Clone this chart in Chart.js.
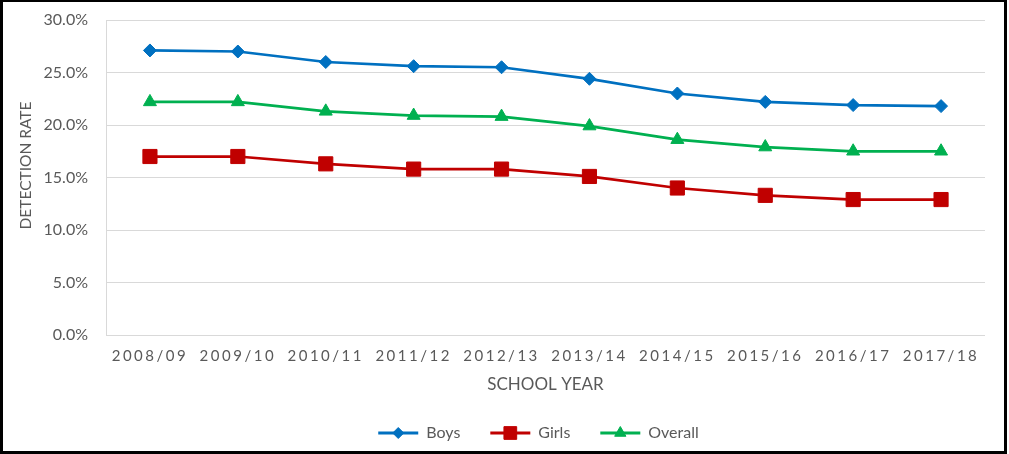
<!DOCTYPE html>
<html>
<head>
<meta charset="utf-8">
<script src="https://cdn.jsdelivr.net/npm/chart.js@4"></script>
<style>
  html, body { margin: 0; padding: 0; background: #fff; }
  #wrap { position: absolute; left: 0; top: 0; width: 1007px; height: 454px; box-sizing: border-box;
          border-left: 3px solid #000; border-right: 3px solid #000; border-top: 2px solid #000; border-bottom: 3px solid #000; }
  #c { display: block; }
</style>
</head>
<body>
<div id="wrap"><canvas id="c" width="1001" height="449"></canvas></div>
<script>
const categories = ["2008/09","2009/10","2010/11","2011/12","2012/13","2013/14","2014/15","2015/16","2016/17","2017/18"];
const boys    = [27.1, 27.0, 26.0, 25.6, 25.5, 24.4, 23.0, 22.2, 21.9, 21.8];
const girls   = [17.0, 17.0, 16.3, 15.8, 15.8, 15.1, 14.0, 13.3, 12.9, 12.9];
const overall = [22.2, 22.2, 21.3, 20.9, 20.8, 19.9, 18.6, 17.9, 17.5, 17.5];
const seriesNames = ["Boys", "Girls", "Overall"];
const yTickValues = [0, 5, 10, 15, 20, 25, 30];

const BLUE = '#0070C0', RED = '#C00000', GREEN = '#00B050';
const TEXT = '#595959';
const FONT = 'Lato, "Open Sans", sans-serif';

const tweakPlugin = {
  id: 'tweaks',
  afterLayout(chart) {
    const lg = chart.legend;
    if (lg) { lg.left -= 7; lg.right -= 7; }
  },
  beforeDraw(chart) {
    const sx = chart.scales.x;
    if (sx && !sx._spaced) {
      const orig = sx.drawLabels;
      sx.drawLabels = function(area) {
        const ctx = this.ctx;
        ctx.save();
        ctx.letterSpacing = '2.5px';
        orig.call(this, area);
        ctx.restore();
      };
      sx._spaced = true;
    }
    const sy = chart.scales.y;
    if (sy && !sy._shifted) {
      const origT = sy.drawTitle;
      sy.drawTitle = function() {
        const ctx = this.ctx;
        ctx.save();
        ctx.translate(0, -12);
        origT.apply(this, arguments);
        ctx.restore();
      };
      sy._shifted = true;
    }
  }
};

const legendMarkerPlugin = {
  id: 'legendMarkers',
  afterDraw(chart) {
    const lg = chart.legend;
    if (!lg || !lg.legendHitBoxes) return;
    const ctx = chart.ctx;
    lg.legendHitBoxes.forEach((hb, i) => {
      const ds = chart.data.datasets[i];
      const bw = lg.options.labels.boxWidth;
      const x = hb.left + bw / 2;
      const y = hb.top + hb.height / 2;
      ctx.save();
      ctx.fillStyle = ds.pointBackgroundColor;
      ctx.strokeStyle = ds.pointBorderColor;
      ctx.lineWidth = 1;
      Chart.helpers.drawPoint(ctx, {pointStyle: ds.pointStyle, rotation: 0, borderWidth: 1, radius: ds.legendRadius}, x, y);
      ctx.restore();
    });
  }
};

new Chart(document.getElementById('c'), {
  type: 'line',
  data: {
    labels: categories,
    datasets: [
      { label: seriesNames[0], data: boys, borderColor: BLUE, backgroundColor: BLUE, pointBackgroundColor: BLUE, pointBorderColor: BLUE,
        borderWidth: 2.75, pointStyle: 'rectRot', pointRadius: 6.5, pointBorderWidth: 1, legendRadius: 5.5, tension: 0 },
      { label: seriesNames[1], data: girls, borderColor: RED, backgroundColor: RED, pointBackgroundColor: RED, pointBorderColor: RED,
        borderWidth: 2.75, pointStyle: 'rect', pointRadius: 10, pointBorderWidth: 1, legendRadius: 9, tension: 0 },
      { label: seriesNames[2], data: overall, borderColor: GREEN, backgroundColor: GREEN, pointBackgroundColor: GREEN, pointBorderColor: GREEN,
        borderWidth: 2.75, pointStyle: 'triangle', pointRadius: 7.5, pointBorderWidth: 1, legendRadius: 6.5, tension: 0 }
    ]
  },
  options: {
    responsive: false,
    animation: false,
    events: [],
    layout: { padding: { top: 18, right: 19, bottom: 0, left: 0 } },
    plugins: {
      tooltip: { enabled: false },
      legend: {
        position: 'bottom',
        fullSize: false,
        labels: {
          boxWidth: 40, boxHeight: 3, padding: 30,
          color: TEXT, font: { family: FONT, size: 16 },
          generateLabels(chart) {
            return chart.data.datasets.map((ds, i) => ({
              text: ds.label, fillStyle: ds.borderColor, strokeStyle: ds.borderColor, lineWidth: 0,
              hidden: false, datasetIndex: i, fontColor: TEXT
            }));
          }
        }
      }
    },
    scales: {
      x: {
        offset: true,
        grid: { display: false, drawTicks: false },
        border: { display: false },
        ticks: { color: TEXT, font: { family: FONT, size: 15 }, padding: 12, maxRotation: 0, autoSkip: false },
        title: { display: true, text: 'SCHOOL YEAR', color: TEXT, font: { family: FONT, size: 17 }, padding: { top: 0, bottom: 0 } },
        afterFit(s) { s.height = 60; }
      },
      y: {
        min: 0, max: 30,
        afterBuildTicks(s) { s.ticks = yTickValues.map(v => ({ value: v })); },
        grid: { color: '#D9D9D9', lineWidth: 1, drawTicks: false },
        border: { display: true, color: '#D9D9D9', width: 1 },
        ticks: { color: TEXT, font: { family: FONT, size: 16 }, padding: 18, callback: v => v.toFixed(1) + '%' },
        title: { display: true, text: 'DETECTION RATE', color: TEXT, font: { family: FONT, size: 15.5 }, padding: { top: 14, bottom: 0 } },
        afterFit(s) { s.width = 103; s.paddingTop = 0; s.paddingBottom = 0; }
      }
    }
  },
  plugins: [tweakPlugin, legendMarkerPlugin]
});
</script>
</body>
</html>
